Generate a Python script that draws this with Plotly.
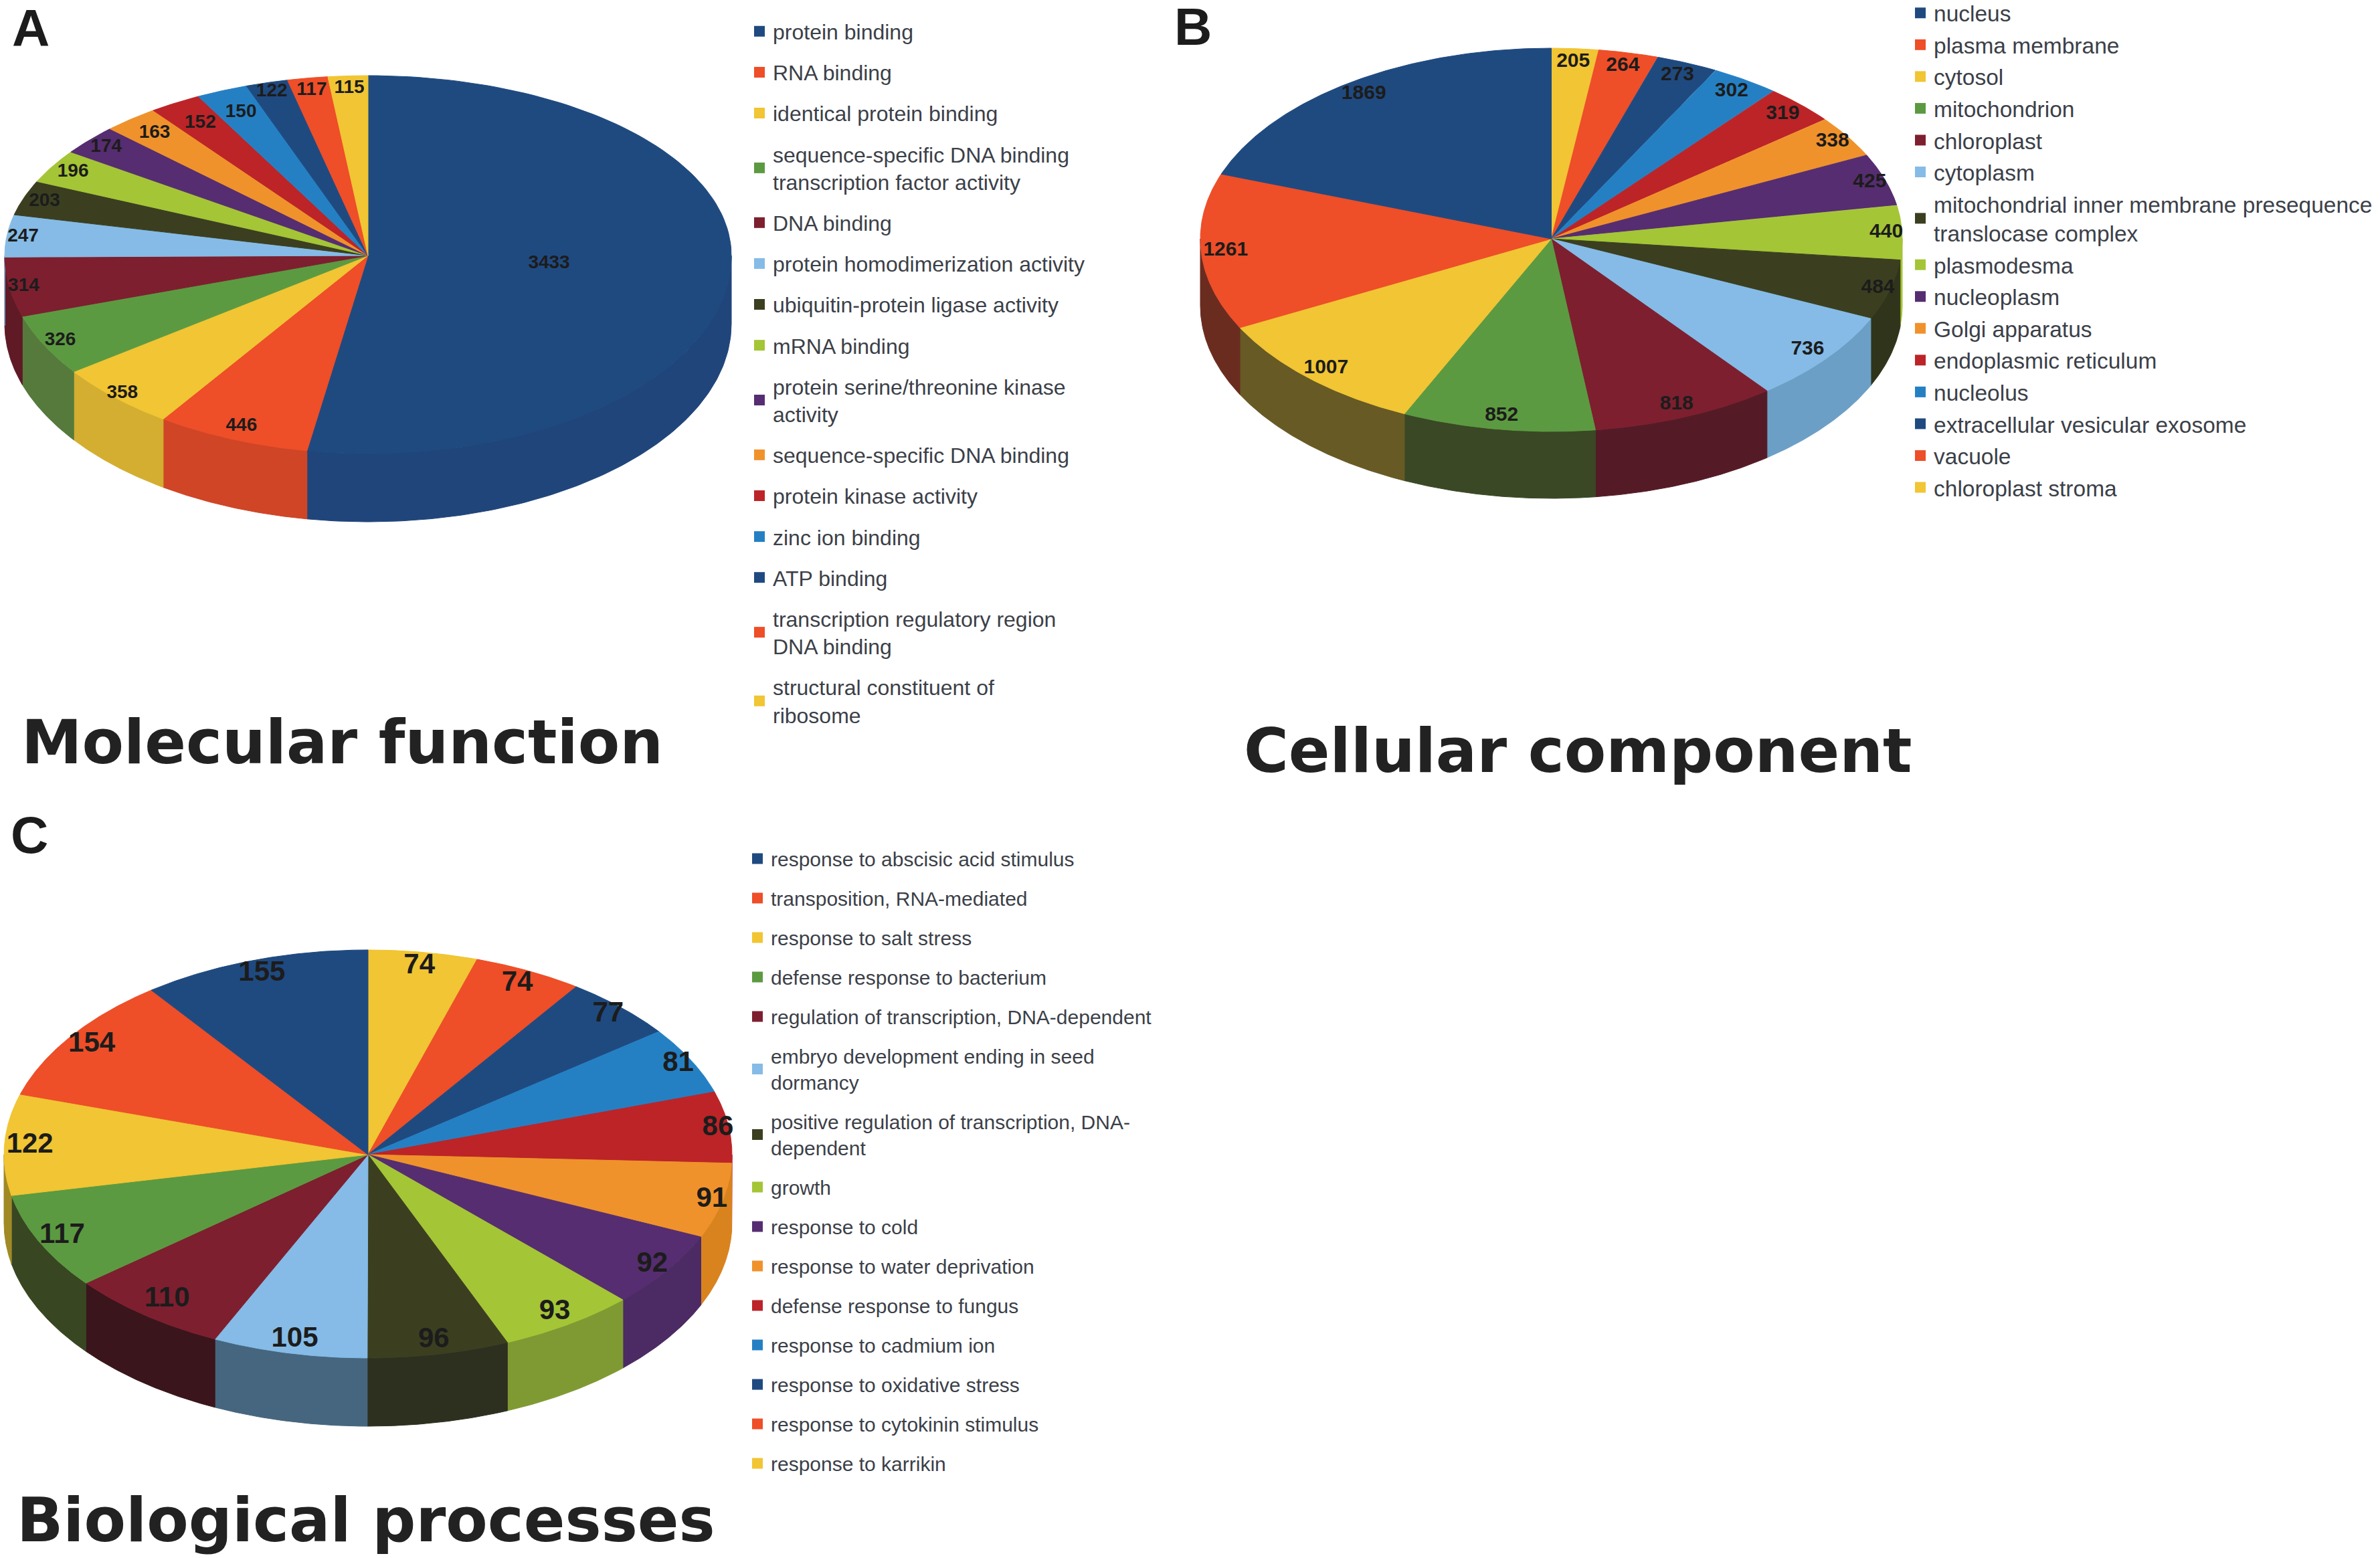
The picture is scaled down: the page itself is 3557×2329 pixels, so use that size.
import numpy as np
import plotly.graph_objects as go

W, H = 3557, 2329

# ---------- data ----------
mf_names = ["protein binding", "RNA binding", "identical protein binding",
            "sequence-specific DNA binding<br>transcription factor activity", "DNA binding",
            "protein homodimerization activity", "ubiquitin-protein ligase activity", "mRNA binding",
            "protein serine/threonine kinase<br>activity", "sequence-specific DNA binding",
            "protein kinase activity", "zinc ion binding", "ATP binding",
            "transcription regulatory region<br>DNA binding", "structural constituent of<br>ribosome"]
mf_values = [3433, 446, 358, 326, 314, 247, 203, 196, 174, 163, 152, 150, 122, 117, 115]

cc_names = ["nucleus", "plasma membrane", "cytosol", "mitochondrion", "chloroplast", "cytoplasm",
            "mitochondrial inner membrane presequence<br>translocase complex", "plasmodesma",
            "nucleoplasm", "Golgi apparatus", "endoplasmic reticulum", "nucleolus",
            "extracellular vesicular exosome", "vacuole", "chloroplast stroma"]
cc_values = [1869, 1261, 1007, 852, 818, 736, 484, 440, 425, 338, 319, 302, 273, 264, 205]

bp_names = ["response to abscisic acid stimulus", "transposition, RNA-mediated", "response to salt stress",
            "defense response to bacterium", "regulation of transcription, DNA-dependent",
            "embryo development ending in seed<br>dormancy",
            "positive regulation of transcription, DNA-<br>dependent", "growth", "response to cold",
            "response to water deprivation", "defense response to fungus", "response to cadmium ion",
            "response to oxidative stress", "response to cytokinin stimulus", "response to karrikin"]
bp_values = [155, 154, 122, 117, 110, 105, 96, 93, 92, 91, 86, 81, 77, 74, 74]

colors = ["#1f4a80", "#ee4e28", "#f1c533", "#5c9a41", "#7d1f2f", "#85bbe6", "#3b3f20", "#a4c536",
          "#562d70", "#f0922b", "#bc2428", "#2580c3", "#1f4a80", "#ee4e28", "#f1c533"]
mf_walls = ["#20457a", "#cf4526", "#d4ae30", "#557a3c", "#5f1a26", "#85bbe6", "#3b3f20", "#a4c536",
            "#562d70", "#f0922b", "#bc2428", "#2580c3", "#1f4a80", "#ee4e28", "#f1c533"]
cc_walls = ["#1f4a80", "#6b2c20", "#675a24", "#3a4825", "#541b26", "#6c9fc6", "#30341b", "#a4c536",
            "#562d70", "#f0922b", "#bc2428", "#2580c3", "#1f4a80", "#ee4e28", "#f1c533"]
bp_walls = ["#1f4a80", "#ee4e28", "#a08a25", "#384622", "#3a151c", "#46667f", "#2d301f", "#7f9a33",
            "#4c2a63", "#d9831f", "#bc2428", "#2580c3", "#1f4a80", "#ee4e28", "#f1c533"]

mf_label_r = [0.5, 0.93, 0.97, 0.95, 0.96, 0.955, 0.94, 0.935, 0.94, 0.90, 0.87, 0.87, 0.95, 0.93, 0.93]
cc_label_r = [0.93, 0.93, 0.93, 0.93, 0.93, 0.93, 0.965, 0.955, 0.955, 0.95, 0.93, 0.93, 0.93, 0.93, 0.93]
bp_label_r = [0.93, 0.93, 0.93, 0.93, 0.90, 0.93, 0.93, 0.93, 0.95, 0.97, 0.97, 0.96, 0.95, 0.93, 0.93]

panels = [
    dict(names=mf_names, values=mf_values, walls=mf_walls, label_r=mf_label_r, reverse=False,
         cx=550, cy=382, rx=543, ry_up=269, ry_low=296, depth=102, font=28,
         legend="legend", legend_x=1115, legend_y=19.5, legend_font="Liberation Sans", legend_size=32, gap=16.5,
         ax=""),
    dict(names=cc_names, values=cc_values, walls=cc_walls, label_r=cc_label_r, reverse=True,
         cx=2318.5, cy=357, rx=524.5, ry_up=285, ry_low=288, depth=100, font=30,
         legend="legend2", legend_x=2850, legend_y=-9, legend_font="Liberation Sans", legend_size=33.5, gap=1,
         ax="2"),
    dict(names=bp_names, values=bp_values, walls=bp_walls, label_r=bp_label_r, reverse=True,
         cx=550, cy=1726, rx=544, ry_up=306, ry_low=304, depth=102, font=42,
         legend="legend3", legend_x=1112, legend_y=1257.5, legend_font="Liberation Sans", legend_size=30, gap=17,
         ax="3"),
]

titles = [("Molecular function", 30, 1109), ("Cellular component", 1857, 1122), ("Biological processes", 23, 2272)]
letters = [("A", 16, 42), ("B", 1753, 40), ("C", 14, 1248)]

fig = go.Figure()
layout = dict(width=W, height=H, margin=dict(l=0, r=0, t=0, b=0, autoexpand=False), paper_bgcolor="white",
              plot_bgcolor="rgba(0,0,0,0)", hovermode=False, annotations=[])

for p in panels:
    vals = np.array(p["values"], float)
    cols = list(colors)
    walls = list(p["walls"])
    order = list(range(len(vals)))
    if p["reverse"]:  # slices run clockwise from the last legend entry
        order = order[::-1]
    total = vals.sum()
    k = p["ry_low"] / p["ry_up"]
    dz = p["depth"] / p["ry_up"]
    pad = 6
    xa, ya = "x" + p["ax"], "y" + p["ax"]

    def pt(th):
        th = np.asarray(th)
        c = np.cos(th)
        return np.sin(th), np.where(c < 0, c * k, c)

    cum = 0.0
    walls_tr, faces_tr = [], []
    lx, ly, lt = [], [], []
    for i in order:
        a0 = cum / total * 2 * np.pi
        cum += vals[i]
        a1 = cum / total * 2 * np.pi
        th = np.linspace(a0, a1, 120)
        x, y = pt(th)
        faces_tr.append(go.Scatter(x=np.r_[0, x, 0], y=np.r_[0, y, 0], xaxis=xa, yaxis=ya, mode="lines",
                                   fill="toself", fillcolor=cols[i], line=dict(color=cols[i], width=1),
                                   showlegend=False, hoverinfo="skip"))
        lo, hi = max(a0, np.pi / 2), min(a1, 3 * np.pi / 2)
        if hi > lo:
            tw = np.linspace(lo, hi, 120)
            wx, wy = pt(tw)
            walls_tr.append(go.Scatter(x=np.r_[wx, wx[::-1], wx[0]], y=np.r_[wy, wy[::-1] - dz, wy[0]],
                                       xaxis=xa, yaxis=ya, mode="lines", fill="toself", fillcolor=walls[i],
                                       line=dict(color=walls[i], width=1), showlegend=False, hoverinfo="skip"))
        mid = (a0 + a1) / 2
        mx, my = pt(mid)
        lx.append(float(mx) * p["label_r"][i])
        ly.append(float(my) * p["label_r"][i])
        lt.append(str(p["values"][i]))
    for t in walls_tr + faces_tr:
        fig.add_trace(t)
    fig.add_trace(go.Scatter(x=lx, y=ly, text=lt, xaxis=xa, yaxis=ya, mode="text", cliponaxis=False,
                             textposition="middle center", showlegend=False, hoverinfo="skip",
                             textfont=dict(family="Liberation Sans", size=p["font"],
                                           color="#1c1c1c", weight="bold")))
    # legend entries
    for i, name in enumerate(p["names"]):
        fig.add_trace(go.Scatter(x=[None], y=[None], xaxis=xa, yaxis=ya, mode="markers", name=name,
                                 legend=p["legend"], legendgroup=f'{p["legend"]}-{i}',
                                 marker=dict(symbol="square", size=16, color=cols[i])))
    # axes
    x0, x1 = p["cx"] - p["rx"] - pad, p["cx"] + p["rx"] + pad
    y_top, y_bot = p["cy"] - p["ry_up"] - pad, p["cy"] + p["ry_low"] + p["depth"] + pad
    layout["xaxis" + p["ax"]] = dict(domain=[x0 / W, x1 / W], range=[-(p["rx"] + pad) / p["rx"], (p["rx"] + pad) / p["rx"]],
                                     visible=False, fixedrange=True, anchor=ya)
    layout["yaxis" + p["ax"]] = dict(domain=[1 - y_bot / H, 1 - y_top / H],
                                     range=[-(p["ry_low"] + p["depth"] + pad) / p["ry_up"], (p["ry_up"] + pad) / p["ry_up"]],
                                     visible=False, fixedrange=True, anchor=xa)
    layout[p["legend"]] = dict(x=p["legend_x"] / W, y=1 - p["legend_y"] / H, xanchor="left", yanchor="top",
                               bgcolor="rgba(0,0,0,0)", traceorder="grouped", tracegroupgap=p["gap"],
                               itemclick=False, itemdoubleclick=False,
                               font=dict(family=p["legend_font"], size=p["legend_size"], color="#3b4048"))

for text, x, y in titles:
    layout["annotations"].append(dict(text=text, x=x / W, y=1 - y / H, xref="paper", yref="paper", xanchor="left",
                                      yanchor="middle", showarrow=False,
                                      font=dict(family="DejaVu Sans", size=91, color="#222222", weight="bold")))
for text, x, y in letters:
    layout["annotations"].append(dict(text=text, x=x / W, y=1 - y / H, xref="paper", yref="paper", xanchor="left",
                                      yanchor="middle", showarrow=False, height=80,
                                      font=dict(family="Liberation Sans", size=78, color="#1c1c1c", weight="bold")))

fig.update_layout(**layout)
fig.write_html("out.html", config={"displayModeBar": False}, post_script="document.body.style.margin='0';")
